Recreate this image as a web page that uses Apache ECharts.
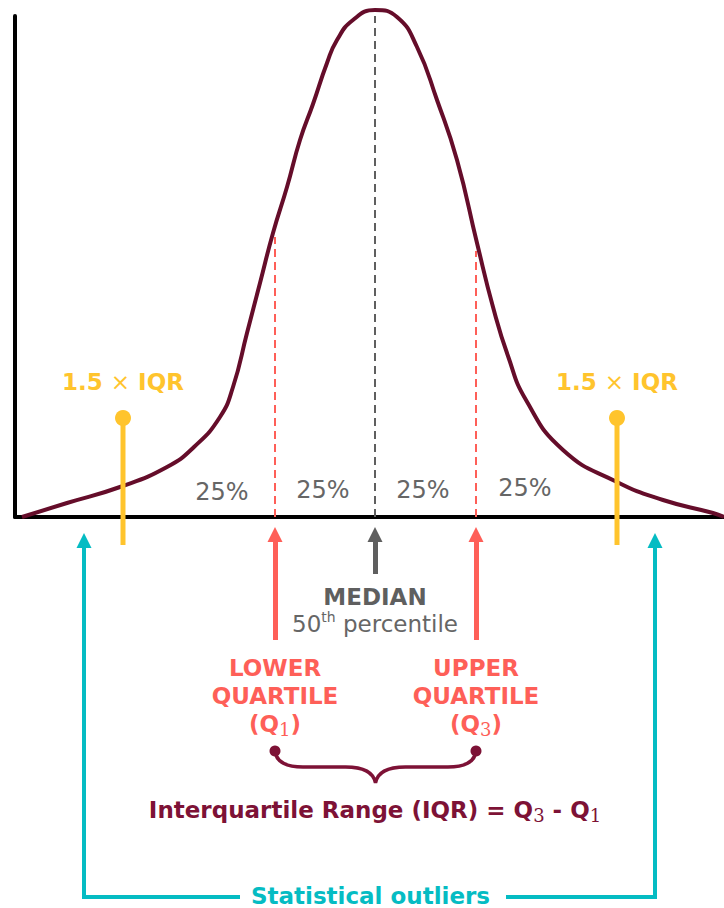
<!DOCTYPE html>
<html>
<head>
<meta charset="utf-8">
<script src="https://cdn.jsdelivr.net/npm/echarts@6/dist/echarts.min.js"></script>
<style>
html,body{margin:0;padding:0;background:#ffffff;}
#chart{width:724px;height:908px;}
</style>
</head>
<body>
<div id="chart"></div>
<script>
// ---------------- DATA (units: median = 0, quartile distance ≈ 1) ----------------
const curveX = [-3.53, -3.08, -2.55, -2.08, -1.81, -1.55, -1.42, -1.28, -1.15, -1.02, -0.88, -0.75, -0.62, -0.48, -0.38, -0.22, 0.00, 0.22, 0.42, 0.62, 0.82, 1.02, 1.18, 1.33, 1.51, 1.88, 2.42, 2.88, 3.38, 3.49];
const curveY = [0.00, 0.14, 0.30, 0.50, 0.70, 1.00, 1.30, 1.84, 2.34, 2.84, 3.30, 3.77, 4.13, 4.54, 4.77, 4.97, 5.07, 5.00, 4.70, 4.17, 3.57, 2.74, 2.10, 1.61, 1.17, 0.67, 0.35, 0.17, 0.04, 0.00];
const quartileNames = ['Q1', 'Median', 'Q3'];
const quartileX = [-1.00, 0.00, 1.01];
const quartileTopY = [2.80, 5.07, 2.66];
const whiskerX = [-2.52, 2.42];
const outlierX = [-2.91, 2.80];
const segmentLabels = ['25%', '25%', '25%', '25%'];

// ---------------- LAYOUT / STYLE ----------------
const X0 = [-3.60, 3.49], Y0 = [0, 5.01];         // main plot axes
const X1 = [-3.75, 3.49], Y1 = [-3.91, 5.17];     // full-canvas annotation layer
const unitPerPx = (X1[1] - X1[0]) / 724;
const FONT = "'DejaVu Sans', Verdana, sans-serif";
const C = {
  curve: '#650d2a', coral: '#fe5f58', gray: '#5f5f5f', yellow: '#ffc42d',
  maroon: '#7d1236', teal: '#05bcc3', black: '#000000', text: '#666666'
};
const HEAD = 15;
const segLabelPos = [[-1.53, 0.25], [-0.52, 0.27], [0.48, 0.27], [1.50, 0.29]];
const L = {
  whiskerTop: 0.99, whiskerBottom: -0.28, whiskerLabelY: 1.35,
  arrowTip: -0.10, quartArrowBase: -1.23, medArrowBase: -0.57,
  outTip: -0.16, outBottom: -3.80, outTextGap: [-1.37, 1.33],
  medianY: -0.80, pctY: -1.07, qBlockY: -1.79, braceY: -2.34, formulaY: -2.93, outTextY: -3.79
};

function arrowItem(x, tipY, baseY) {
  const off = HEAD / 2 * unitPerPx;
  return { coords: [[x, baseY], [x, tipY - off]] };
}

function label(pos, formatter, rich) {
  return { value: pos, label: { formatter: formatter, rich: rich } };
}

const bold = (color, size, lh) => ({ fontFamily: FONT, fontWeight: 'bold', fontSize: size || 23, color: color, lineHeight: lh || 28 });
const normal = (color, size, lh) => ({ fontFamily: FONT, fontWeight: 'normal', fontSize: size || 23, color: color, lineHeight: lh || 28 });
const sub = (color) => ({ fontFamily: "'DejaVu Serif', 'Liberation Serif', serif", fontWeight: 'normal', fontSize: 18, color: color, lineHeight: 28, verticalAlign: 'bottom' });

const labelData = [];
whiskerX.forEach(x => labelData.push(label([x, L.whiskerLabelY], '{b|1.5 }{x|×}{b| IQR}',
  { b: bold(C.yellow), x: normal(C.yellow) })));
segmentLabels.forEach((t, i) => labelData.push(label(segLabelPos[i], '{n|' + t + '}', { n: normal(C.text, 24) })));
labelData.push(label([quartileX[1], L.medianY], '{b|MEDIAN}', { b: bold(C.gray) }));
labelData.push(label([quartileX[1], L.pctY], '{n|50}{s|th}{n| percentile}',
  { n: normal(C.text), s: Object.assign(normal(C.text, 14), { verticalAlign: 'top', lineHeight: 26 }) }));
labelData.push(label([quartileX[0], L.qBlockY], '{a|LOWER}\n{a|QUARTILE}\n{a|(Q}{s|1}{a|)}',
  { a: bold(C.coral), s: sub(C.coral) }));
labelData.push(label([quartileX[2], L.qBlockY], '{a|UPPER}\n{a|QUARTILE}\n{a|(Q}{s|3}{a|)}',
  { a: bold(C.coral), s: sub(C.coral) }));
labelData.push(label([quartileX[1], L.formulaY], '{a|Interquartile Range (IQR) = Q}{s|3}{a| - Q}{s|1}',
  { a: bold(C.maroon), s: sub(C.maroon) }));
labelData.push(label([(outlierX[0] + outlierX[1]) / 2 + 0.01, L.outTextY], '{a|Statistical outliers}',
  { a: bold(C.teal, 23, 22) }));

const hiddenAxis = (idx, mm) => ({
  gridIndex: idx, type: 'value', min: mm[0], max: mm[1], show: false
});

const option = {
  animation: false,
  backgroundColor: '#ffffff',
  grid: [
    { left: 15, right: 0, top: 16, bottom: 391, containLabel: false },
    { left: 0, right: 0, top: 0, bottom: 0, containLabel: false }
  ],
  xAxis: [
    { gridIndex: 0, type: 'value', min: X0[0], max: X0[1],
      axisLine: { show: true, onZero: false, lineStyle: { color: C.black, width: 4 } },
      axisTick: { show: false }, axisLabel: { show: false }, splitLine: { show: false } },
    hiddenAxis(1, X1)
  ],
  yAxis: [
    { gridIndex: 0, type: 'value', min: Y0[0], max: Y0[1],
      axisLine: { show: true, onZero: false, lineStyle: { color: C.black, width: 4 } },
      axisTick: { show: false }, axisLabel: { show: false }, splitLine: { show: false } },
    hiddenAxis(1, Y1)
  ],
  series: [
    // quartile dashed lines
    {
      type: 'lines', coordinateSystem: 'cartesian2d', xAxisIndex: 0, yAxisIndex: 0, silent: true, z: 2,
      data: quartileX.map((x, i) => ({
        name: quartileNames[i],
        coords: [[x, 0], [x, quartileTopY[i]]],
        lineStyle: { color: i === 1 ? C.gray : C.coral, width: 2, type: [8, 5], opacity: 1 }
      }))
    },
    // distribution curve
    {
      type: 'line', name: 'distribution', xAxisIndex: 0, yAxisIndex: 0, clip: false, silent: true, z: 5,
      data: curveX.map((x, i) => [x, curveY[i]]),
      smooth: 0.5, symbol: 'none',
      lineStyle: { color: C.curve, width: 4 }
    },
    // whiskers 1.5 x IQR
    ...whiskerX.map(x => ({
      type: 'line', xAxisIndex: 1, yAxisIndex: 1, silent: true, z: 6,
      data: [
        { value: [x, L.whiskerTop], symbol: 'circle', symbolSize: 16 },
        { value: [x, L.whiskerBottom], symbol: 'none' }
      ],
      lineStyle: { color: C.yellow, width: 5 }, itemStyle: { color: C.yellow, opacity: 1 }
    })),
    // quartile arrows
    {
      type: 'lines', coordinateSystem: 'cartesian2d', xAxisIndex: 1, yAxisIndex: 1, silent: true,
      symbol: ['none', 'triangle'], symbolSize: HEAD,
      lineStyle: { color: C.coral, width: 5, opacity: 1 },
      data: [arrowItem(quartileX[0], L.arrowTip, L.quartArrowBase), arrowItem(quartileX[2], L.arrowTip, L.quartArrowBase)]
    },
    {
      type: 'lines', coordinateSystem: 'cartesian2d', xAxisIndex: 1, yAxisIndex: 1, silent: true,
      symbol: ['none', 'triangle'], symbolSize: HEAD,
      lineStyle: { color: C.gray, width: 5, opacity: 1 },
      data: [arrowItem(quartileX[1], L.arrowTip, L.medArrowBase)]
    },
    // outlier bracket
    {
      type: 'lines', coordinateSystem: 'cartesian2d', xAxisIndex: 1, yAxisIndex: 1, silent: true,
      symbol: ['none', 'triangle'], symbolSize: HEAD,
      lineStyle: { color: C.teal, width: 4, opacity: 1, cap: 'square' },
      data: outlierX.map(x => arrowItem(x, L.outTip, L.outBottom))
    },
    {
      type: 'lines', coordinateSystem: 'cartesian2d', xAxisIndex: 1, yAxisIndex: 1, silent: true,
      symbol: 'none',
      lineStyle: { color: C.teal, width: 4, opacity: 1, cap: 'square' },
      data: [
        { coords: [[outlierX[0], L.outBottom], [L.outTextGap[0], L.outBottom]] },
        { coords: [[L.outTextGap[1], L.outBottom], [outlierX[1], L.outBottom]] }
      ]
    },
    // IQR brace
    {
      type: 'custom', xAxisIndex: 1, yAxisIndex: 1, silent: true,
      data: [[quartileX[0], quartileX[2]]],
      renderItem: function (params, api) {
        const a = api.coord([api.value(0), L.braceY]);
        const b = api.coord([api.value(1), L.braceY]);
        const m = (a[0] + b[0]) / 2, y0 = a[1], d = 16, t = 32;
        const pd = 'M' + a[0] + ',' + y0 +
          ' C' + (a[0] + 1) + ',' + (y0 + 11) + ' ' + (a[0] + 12) + ',' + (y0 + d) + ' ' + (a[0] + 28) + ',' + (y0 + d) +
          ' L' + (m - 30) + ',' + (y0 + d) +
          ' C' + (m - 13) + ',' + (y0 + d) + ' ' + (m - 2) + ',' + (y0 + d + 5) + ' ' + m + ',' + (y0 + t) +
          ' C' + (m + 2) + ',' + (y0 + d + 5) + ' ' + (m + 13) + ',' + (y0 + d) + ' ' + (m + 30) + ',' + (y0 + d) +
          ' L' + (b[0] - 28) + ',' + (y0 + d) +
          ' C' + (b[0] - 12) + ',' + (y0 + d) + ' ' + (b[0] - 1) + ',' + (y0 + 11) + ' ' + b[0] + ',' + y0;
        return {
          type: 'group', children: [
            { type: 'path', shape: { pathData: pd }, style: { stroke: C.maroon, fill: null, lineWidth: 3.5 } },
            { type: 'circle', shape: { cx: a[0], cy: y0, r: 5.5 }, style: { fill: C.maroon } },
            { type: 'circle', shape: { cx: b[0], cy: y0, r: 5.5 }, style: { fill: C.maroon } }
          ]
        };
      }
    },
    // text annotations
    {
      type: 'scatter', xAxisIndex: 1, yAxisIndex: 1, silent: true, z: 10,
      symbolSize: 1, itemStyle: { color: 'rgba(0,0,0,0)', opacity: 1 },
      label: { show: true, position: 'inside', align: 'center', verticalAlign: 'middle', opacity: 1 },
      data: labelData
    }
  ]
};

const chart = echarts.init(document.getElementById('chart'), null, { renderer: 'svg', width: 724, height: 908 });
chart.setOption(option);
</script>
</body>
</html>
